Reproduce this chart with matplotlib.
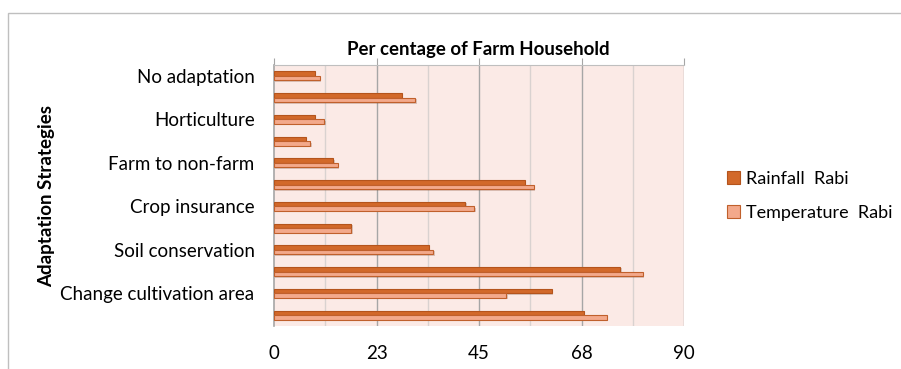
import matplotlib
matplotlib.use("Agg")
import matplotlib.pyplot as plt
from matplotlib.patches import Patch, Rectangle
import matplotlib.patheffects as pe
import numpy as np

plt.rcParams["font.family"] = ["Lato", "DejaVu Sans"]

# Adaptation strategies, listed top to bottom
strategies = [
    "No adaptation", "Crop diversification", "Horticulture", "Livestock rearing",
    "Farm to non-farm", "Improved varieties", "Crop insurance", "Irrigation",
    "Soil conservation", "Change planting date", "Change cultivation area",
    "Water harvesting",
]
rainfall_rabi = [9, 28, 9, 7, 13, 55, 42, 17, 34, 76, 61, 68]
temperature_rabi = [10, 31, 11, 8, 14, 57, 44, 17, 35, 81, 51, 73]
x_ticks = [0, 22.5, 45, 67.5, 90]
x_tick_labels = ["0", "23", "45", "68", "90"]

dark_fill, dark_edge = "#D2692A", "#B4541C"
light_fill, light_edge = "#F3A98B", "#C0602C"

fig = plt.figure(figsize=(9.01, 3.69), dpi=100)
fig.patches.append(Rectangle((8 / 901, -0.01), 1.0, 1 - 12.5 / 369 + 0.01,
                             transform=fig.transFigure, fill=False,
                             edgecolor="#BFBFBF", linewidth=1.0))

ax = fig.add_axes([274 / 901, 1 - 326 / 369, 410 / 901, 261 / 369])
ax.set_facecolor("#FBEAE6")

y = np.arange(len(strategies))
h = 0.21
shadow = [pe.SimplePatchShadow(offset=(1.0, -1.0), alpha=0.25, shadow_rgbFace="#7a4a30"), pe.Normal()]
b1 = ax.barh(y - h / 2, rainfall_rabi, height=h, color=dark_fill,
             edgecolor=dark_edge, linewidth=0.8, zorder=3)
b2 = ax.barh(y + h / 2, temperature_rabi, height=h, color=light_fill,
             edgecolor=light_edge, linewidth=0.8, zorder=3)
for bar in list(b1) + list(b2):
    bar.set_path_effects(shadow)

ax.set_xlim(0, 90)
ax.set_ylim(len(strategies) - 0.5, -0.5)

# gridlines: darker at labelled values, lighter in between
for v in np.arange(11.25, 90, 22.5):
    ax.axvline(v, color="#D9D2D0", linewidth=1.0, zorder=1)
for v in x_ticks[1:]:
    ax.axvline(v, color="#A6A6A6", linewidth=1.0, zorder=1)

ax.set_xticks(x_ticks)
ax.set_xticklabels(x_tick_labels)
ax.tick_params(axis="x", which="major", top=True, bottom=False,
               labeltop=False, labelbottom=True, direction="out",
               length=5, color="#A6A6A6", pad=9, labelsize=13.5,
               labelcolor="black")

ax.set_yticks(y)
ax.set_yticklabels([s if i % 2 == 0 else "" for i, s in enumerate(strategies)])
ax.tick_params(axis="y", length=0, pad=14, labelsize=13.5)

for side in ("right", "bottom"):
    ax.spines[side].set_visible(False)
ax.spines["top"].set_color("#BFBFBF")
ax.spines["left"].set_color("#A6A6A6")
ax.spines["left"].set_linewidth(1.2)

fig.text(478 / 901, 1 - 50 / 369, "Per centage of Farm Household",
         ha="center", va="center", fontsize=13.4, fontweight="bold")
fig.text(47 / 901, 1 - 196 / 369, "Adaptation Strategies", rotation=90,
         ha="center", va="center", fontsize=13.5, fontweight="bold")

handles = [Patch(facecolor=dark_fill, edgecolor=dark_edge, linewidth=0.8),
           Patch(facecolor=light_fill, edgecolor=light_edge, linewidth=0.8)]
fig.legend(handles, ["Rainfall  Rabi", "Temperature  Rabi"],
           loc="center left", bbox_to_anchor=(711 / 901, 1 - 196 / 369),
           frameon=False, fontsize=13, handlelength=0.7, handleheight=0.7,
           handletextpad=0.35, labelspacing=1.0)

fig.savefig("out.png", dpi=100)
